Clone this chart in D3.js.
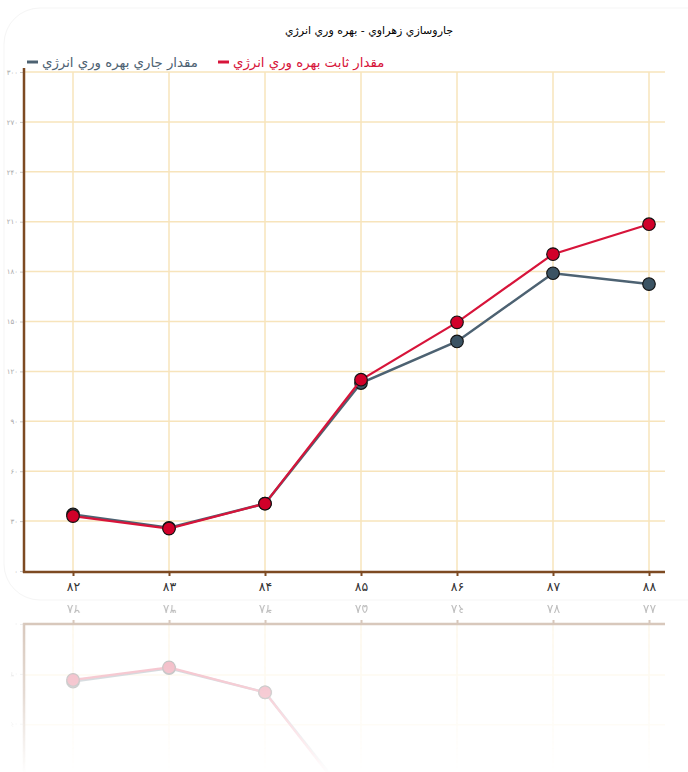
<!DOCTYPE html>
<html>
<head>
<meta charset="utf-8">
<script src="https://cdn.jsdelivr.net/npm/d3@7/dist/d3.min.js"></script>
<style>
  html, body { margin: 0; padding: 0; background: #fff; }
  svg { display: block; }
  text { font-family: "DejaVu Sans", sans-serif; }
</style>
</head>
<body>
<svg id="c" width="688" height="772"></svg>
<script>
const title = "جاروسازي زهراوي - بهره وري انرژي";
const years = ["۸۲", "۸۳", "۸۴", "۸۵", "۸۶", "۸۷", "۸۸"];
const seriesNames = ["مقدار جاري بهره وري انرژي", "مقدار ثابت بهره وري انرژي"];
const seriesColors = ["#4d6272", "#d7143a"];
const pointFills = ["#3b5363", "#d10029"];
const currentValues = [34, 26, 40.5, 113, 138, 179, 172.5];
const constantValues = [33, 25.5, 40.5, 115, 149.5, 190.5, 208.5];
const yTicks = [0, 30, 60, 90, 120, 150, 180, 210, 240, 270, 300];
const yTickLabels = ["٠", "٣٠", "۶٠", "٩٠", "١٢٠", "١۵٠", "١٨٠", "٢١٠", "٢۴٠", "٢٧٠", "٣٠٠"];

const svg = d3.select("#c");
const defs = svg.append("defs");
const grad = defs.append("linearGradient").attr("id", "fadeGrad")
  .attr("gradientUnits", "userSpaceOnUse").attr("x1", 0).attr("y1", 598).attr("x2", 0).attr("y2", 775);
grad.append("stop").attr("offset", 0).attr("stop-color", "#fff").attr("stop-opacity", 0.34);
grad.append("stop").attr("offset", 0.55).attr("stop-color", "#fff").attr("stop-opacity", 0.2);
grad.append("stop").attr("offset", 1).attr("stop-color", "#fff").attr("stop-opacity", 0);
defs.append("mask").attr("id", "fade").attr("maskUnits", "userSpaceOnUse")
  .attr("x", 0).attr("y", 598).attr("width", 688).attr("height", 200)
  .append("rect").attr("x", 0).attr("y", 598).attr("width", 688).attr("height", 200).attr("fill", "url(#fadeGrad)");
defs.append("filter").attr("id", "blur").append("feGaussianBlur").attr("stdDeviation", 0.7);

const pL = 24, pR = 665, pT = 72, pB = 571;
const x = d3.scalePoint().domain(years).range([73, 649]);
const y = d3.scaleLinear().domain([0, 300]).range([pB, pT]);

// faint frame
svg.append("rect").attr("x", 4).attr("y", 8).attr("width", 720).attr("height", 592).attr("rx", 36)
  .attr("fill", "none").attr("stroke", "#f5f5f5").attr("stroke-width", 1);

const chart = svg.append("g").attr("id", "chart");

// grid
chart.append("g").selectAll("line").data(yTicks.slice(1)).join("line")
  .attr("x1", pL).attr("x2", pR).attr("y1", d => y(d)).attr("y2", d => y(d))
  .attr("stroke", "#f7e4bb").attr("stroke-width", 1.5);
chart.append("g").selectAll("line").data(years).join("line")
  .attr("x1", d => x(d)).attr("x2", d => x(d)).attr("y1", pT).attr("y2", pB)
  .attr("stroke", "#f7e4bb").attr("stroke-width", 1.5);

// y axis
const yAxis = d3.axisLeft(y).tickValues(yTicks).tickSize(3).tickFormat((d, i) => yTickLabels[i]);
const yg = chart.append("g").attr("transform", `translate(${pL - 1},0)`).call(yAxis);
yg.select(".domain").remove();
yg.selectAll(".tick line").attr("stroke", "#c8c8c8");
yg.selectAll(".tick text").attr("fill", "#a9a9a9").attr("font-size", 7).attr("x", -5)
  .attr("font-family", "DejaVu Sans, sans-serif");

// x axis
const xAxis = d3.axisBottom(x).tickSize(4).tickPadding(6);
const xg = chart.append("g").attr("transform", `translate(0,${pB + 1})`).call(xAxis);
xg.select(".domain").remove();
xg.selectAll(".tick line").attr("stroke", "#7d4a22").attr("stroke-width", 2);
xg.selectAll(".tick text").attr("fill", "#333").attr("font-size", 12.5)
  .attr("font-family", "DejaVu Sans, sans-serif");

// axis lines
chart.append("line").attr("x1", pL).attr("x2", pL).attr("y1", pT - 4).attr("y2", pB + 2)
  .attr("stroke", "#7d4a22").attr("stroke-width", 2.5);
chart.append("line").attr("x1", pL - 1).attr("x2", pR).attr("y1", pB + 1).attr("y2", pB + 1)
  .attr("stroke", "#7d4a22").attr("stroke-width", 2.5);

// series
const allSeries = [currentValues, constantValues];
const line = d3.line().x((d, i) => x(years[i])).y(d => y(d));
allSeries.forEach((vals, s) => {
  const g = chart.append("g");
  g.append("path").datum(vals).attr("d", line).attr("fill", "none")
    .attr("stroke", seriesColors[s]).attr("stroke-width", s === 0 ? 2.5 : 2.2);
  g.selectAll("circle").data(vals).join("circle")
    .attr("cx", (d, i) => x(years[i])).attr("cy", d => y(d)).attr("r", 6.3)
    .attr("fill", pointFills[s]).attr("stroke", "#111").attr("stroke-width", 1.1);
});

// reflection
svg.append("g").attr("mask", "url(#fade)").attr("filter", "url(#blur)")
  .append("use").attr("href", "#chart").attr("transform", "translate(0,1196) scale(1,-1)");

// title
svg.append("text").attr("x", 369).attr("y", 34).attr("text-anchor", "middle")
  .attr("font-size", 11).attr("fill", "#000").attr("direction", "rtl").text(title);

// legend
const legendItems = [
  { name: seriesNames[0], color: seriesColors[0], x: 27 },
  { name: seriesNames[1], color: seriesColors[1], x: 218 }
];
const lg = svg.append("g");
legendItems.forEach(it => {
  lg.append("line").attr("x1", it.x).attr("x2", it.x + 11).attr("y1", 62).attr("y2", 62)
    .attr("stroke", it.color).attr("stroke-width", 3);
  lg.append("text").attr("x", it.x + 15).attr("y", 66.5).attr("font-size", 13.3)
    .attr("fill", it.color).attr("text-anchor", "start").text(it.name);
});
</script>
</body>
</html>
